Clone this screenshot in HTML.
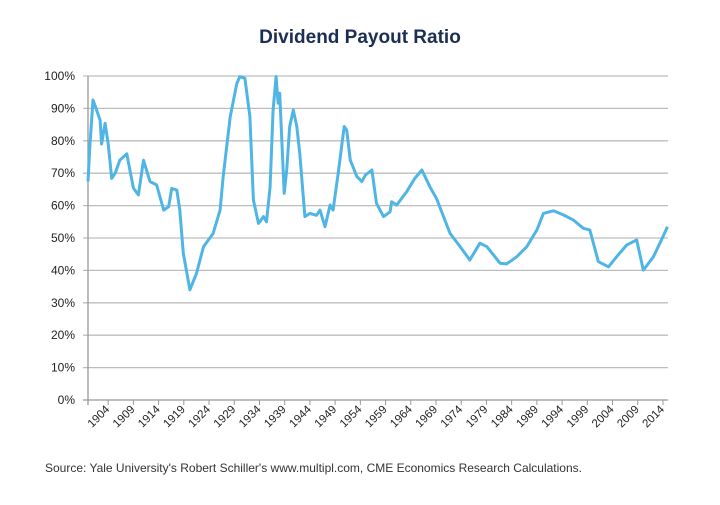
<!DOCTYPE html>
<html><head><meta charset="utf-8"><style>
body{margin:0;background:#fff;font-family:"Liberation Sans",sans-serif;}
</style></head><body>
<svg id="chart" width="720" height="500" xmlns="http://www.w3.org/2000/svg">
<rect width="720" height="500" fill="#fff"/>
<text x="360" y="43" text-anchor="middle" font-size="19" font-weight="bold" fill="#1b2f52">Dividend Payout Ratio</text>
<g id="grid"></g><g id="yt"></g><g id="xt"></g><g id="ser"></g>
<text x="45" y="472" font-size="12" fill="#333">Source: Yale University's Robert Schiller's www.multipl.com, CME Economics Research Calculations.</text>
</svg>
<script>
const years=[1900,1900.4,1901,1901.7,1902.4,1902.7,1903.4,1904,1904.7,1905.4,1906.3,1907.7,1908.3,1909,1910,1911,1912.3,1913.6,1915,1916,1916.6,1917.6,1918.2,1918.9,1920.2,1921.5,1922.9,1924.8,1926.2,1926.8,1928.2,1929.5,1930.1,1931.1,1932.1,1932.8,1933.8,1934.8,1935.4,1936.1,1936.7,1937.3,1937.7,1938,1938.9,1939.4,1940,1940.7,1941.4,1942,1943,1944,1945.3,1946,1947,1948,1948.6,1949.6,1950.8,1951.3,1952,1953.3,1954.3,1955,1956.3,1957.2,1958.6,1959.9,1960.2,1961.2,1963.2,1964.8,1966.2,1967.8,1969.1,1971.8,1973.8,1975.7,1977.7,1979.1,1981.7,1983,1985,1987,1989,1990.3,1992.3,1994.3,1996.2,1998.2,1999.5,2001.2,2003.2,2004.8,2006.8,2008.8,2010.1,2012.1,2013.4,2014.9];
const payout=[67.4,79,92.6,89.5,86.4,79,85.4,79,68.4,70,74,76,71,65.4,63.3,74,67.4,66.4,58.6,59.7,65.3,64.8,58.6,45.3,34,39,47.3,51.4,58.6,69,87.4,97.7,99.8,99.3,87.4,61.7,54.5,56.6,55,65.8,89.5,99.8,91.6,94.7,63.8,71,84.4,89.5,84.4,76,56.6,57.6,57,58.6,53.5,60.2,58.6,70,84.4,83.3,74,69,67.4,69.4,71,60.7,56.6,58.1,61.2,60.2,64.3,68.4,71,65.8,62.2,51.4,47.3,43.2,48.4,47.3,42.2,42,44.2,47.3,52.5,57.6,58.4,57.1,55.6,53,52.5,42.7,41.1,44.2,47.8,49.4,40.1,44.2,48.4,53.5];
const yTicks=[0,10,20,30,40,50,60,70,80,90,100];
const xLabels=[1904,1909,1914,1919,1924,1929,1934,1939,1944,1949,1954,1959,1964,1969,1974,1979,1984,1989,1994,1999,2004,2009,2014];
const NS="http://www.w3.org/2000/svg";
const X0=88,X1=668,Y0=400,Y1=76;
const xs=y=>X0+(y-1900)/(2015-1900)*(X1-X0);
const ys=v=>Y0-v/100*(Y0-Y1);
function mk(t,a,p){const e=document.createElementNS(NS,t);for(const k in a)e.setAttribute(k,a[k]);p.appendChild(e);return e;}
const grid=document.getElementById('grid'),yt=document.getElementById('yt'),xt=document.getElementById('xt'),ser=document.getElementById('ser');
yTicks.forEach(v=>{
 const l=mk('line',{x1:X0-5,x2:X1,y1:ys(v),y2:ys(v),stroke:v===0?'#999':'#bdbdbd','stroke-width':1.3},grid);
 
 
 const t=mk('text',{x:75,y:ys(v)+4,'text-anchor':'end','font-size':12,fill:'#222'},yt);
 t.textContent=v+'%';
 
 
});
const ax=mk('line',{x1:X0,x2:X0,y1:Y1,y2:Y0+5,stroke:'#999','stroke-width':1.3},grid);


xLabels.forEach(yr=>{
 const x=xs(yr);
 const tk=mk('line',{x1:x,x2:x,y1:Y0,y2:Y0+5,stroke:'#999'},xt);
 
 
 const t=mk('text',{x:x+2,y:Y0+10,'text-anchor':'end','font-size':11.5,fill:'#222',transform:`rotate(-45 ${x+2} ${Y0+10})`},xt);
 t.textContent=yr;
 
 
});
const d=years.map((y,i)=>(i?'L':'M')+xs(y).toFixed(1)+' '+ys(payout[i]).toFixed(1)).join(' ');
const p=mk('path',{d:d,fill:'none',stroke:'#4fb5e5','stroke-width':3,'stroke-linejoin':'round'},ser);


</script>
</body></html>
